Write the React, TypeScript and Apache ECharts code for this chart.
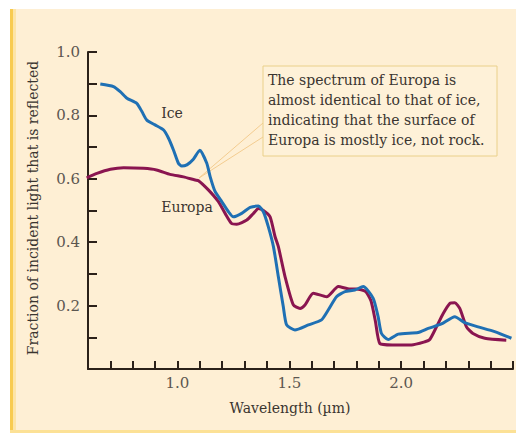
import React, { useEffect, useRef } from "react";
import * as echarts from "echarts";

const iceX = [0.655, 0.714, 0.744, 0.774, 0.818, 0.841, 0.863, 0.9, 0.938, 0.96, 0.982, 1.004, 1.019, 1.042, 1.071, 1.1, 1.131, 1.146, 1.168, 1.198, 1.228, 1.25, 1.287, 1.325, 1.362, 1.384, 1.406, 1.429, 1.451, 1.473, 1.488, 1.525, 1.585, 1.644, 1.674, 1.711, 1.749, 1.793, 1.83, 1.875, 1.897, 1.912, 1.942, 1.987, 2.076, 2.121, 2.18, 2.24, 2.284, 2.344, 2.418, 2.493];
const iceY = [0.899, 0.891, 0.875, 0.854, 0.838, 0.812, 0.785, 0.77, 0.754, 0.728, 0.691, 0.649, 0.64, 0.644, 0.662, 0.69, 0.649, 0.607, 0.56, 0.528, 0.496, 0.48, 0.491, 0.51, 0.514, 0.496, 0.449, 0.386, 0.291, 0.197, 0.139, 0.123, 0.139, 0.155, 0.186, 0.228, 0.244, 0.249, 0.26, 0.223, 0.165, 0.112, 0.093, 0.11, 0.115, 0.128, 0.142, 0.165, 0.146, 0.133, 0.118, 0.097];

const europaX = [0.594, 0.64, 0.7, 0.759, 0.848, 0.906, 0.967, 1.027, 1.079, 1.094, 1.138, 1.183, 1.213, 1.242, 1.265, 1.31, 1.34, 1.362, 1.384, 1.414, 1.436, 1.451, 1.481, 1.518, 1.548, 1.57, 1.607, 1.667, 1.719, 1.771, 1.8, 1.84, 1.865, 1.885, 1.905, 1.96, 2.046, 2.106, 2.128, 2.158, 2.188, 2.218, 2.24, 2.262, 2.292, 2.321, 2.374, 2.47];
const europaY = [0.603, 0.617, 0.63, 0.635, 0.633, 0.628, 0.614, 0.606, 0.596, 0.594, 0.565, 0.528, 0.491, 0.459, 0.457, 0.47, 0.491, 0.506, 0.5, 0.48, 0.418, 0.386, 0.291, 0.202, 0.191, 0.202, 0.239, 0.228, 0.26, 0.252, 0.252, 0.245, 0.215, 0.15, 0.08, 0.076, 0.076, 0.086, 0.093, 0.133, 0.175, 0.207, 0.209, 0.191, 0.133, 0.112, 0.097, 0.091];

const xLabels = ["1.0", "1.5", "2.0"];
const yLabels = ["0.2", "0.4", "0.6", "0.8", "1.0"];
const noteLines = [
  "The spectrum of Europa is",
  "almost identical to that of ice,",
  "indicating that the surface of",
  "Europa is mostly ice, not rock.",
];

const FONT = "DejaVu Serif";

export default function App() {
  const ref = useRef<HTMLDivElement>(null);
  useEffect(() => {
    const chart = echarts.init(ref.current!, null, { renderer: "svg" });
    const zip = (xs: number[], ys: number[]) => xs.map((x, i) => [x, ys[i]]);
    chart.setOption({
      animation: false,
      backgroundColor: "#ffffff",
      grid: { left: 88, right: 1, top: 52, bottom: 65 },
      xAxis: {
        type: "value",
        min: 0.6,
        max: 2.5,
        interval: 0.1,
        splitLine: { show: false },
        axisLine: { lineStyle: { color: "#2b2119", width: 2 } },
        axisTick: { inside: true, length: 8, lineStyle: { color: "#2b2119", width: 2 } },
        axisLabel: {
          margin: 6,
          color: "#5c5650",
          fontFamily: FONT,
          fontSize: 15,
          formatter: (v: number) => {
            const s = v.toFixed(1);
            return xLabels.includes(s) ? s : "";
          },
        },
      },
      yAxis: {
        type: "value",
        min: 0,
        max: 1.0,
        interval: 0.1,
        splitLine: { show: false },
        axisLine: { show: true, lineStyle: { color: "#2b2119", width: 2 } },
        axisTick: { show: true, inside: true, length: 9, lineStyle: { color: "#2b2119", width: 2 } },
        axisLabel: {
          margin: 8,
          color: "#5c5650",
          fontFamily: FONT,
          fontSize: 15,
          formatter: (v: number) => {
            const s = v.toFixed(1);
            return yLabels.includes(s) ? s : "";
          },
        },
      },
      graphic: [
        { type: "rect", z: -10, shape: { x: 10, y: 9, width: 506, height: 424 }, style: { fill: "#feefd4" } },
        { type: "rect", z: -9, shape: { x: 10, y: 9, width: 3, height: 424 }, style: { fill: "#f8cb50" } },
        { type: "rect", z: -9, shape: { x: 13, y: 9, width: 3, height: 424 }, style: { fill: "#fde4a6" } },
        { type: "rect", z: -9, shape: { x: 10, y: 430, width: 506, height: 3 }, style: { fill: "#fce196" } },
        { type: "line", z: 1, shape: { x1: 199, y1: 178, x2: 263, y2: 123 }, style: { stroke: "#f3cc90", lineWidth: 1 } },
        { type: "line", z: 1, shape: { x1: 199, y1: 178, x2: 263, y2: 137 }, style: { stroke: "#f3cc90", lineWidth: 1 } },
        { type: "rect", z: 1, shape: { x: 263, y: 66, width: 234, height: 90 }, style: { fill: "#fef1d8", stroke: "#ead08a", lineWidth: 1 } },
        ...noteLines.map((t, i) => ({
          type: "text",
          z: 5,
          x: 268,
          y: 80 + i * 20,
          style: { text: t, fill: "#3a3530", font: `14px '${FONT}'`, textVerticalAlign: "middle" },
        })),
        { type: "text", z: 5, x: 172, y: 113, style: { text: "Ice", fill: "#3a3530", font: `14px '${FONT}'`, textAlign: "center", textVerticalAlign: "middle" } },
        { type: "text", z: 5, x: 187, y: 207, style: { text: "Europa", fill: "#3a3530", font: `14px '${FONT}'`, textAlign: "center", textVerticalAlign: "middle" } },
        { type: "text", z: 5, x: 290, y: 408, style: { text: "Wavelength (µm)", fill: "#3a3530", font: `14px '${FONT}'`, textAlign: "center", textVerticalAlign: "middle" } },
        { type: "text", z: 5, x: 33, y: 208, rotation: Math.PI / 2, style: { text: "Fraction of incident light that is reflected", fill: "#3a3530", font: `14px '${FONT}'`, textAlign: "center", textVerticalAlign: "middle" } },
      ],
      series: [
        {
          name: "Europa",
          type: "line",
          data: zip(europaX, europaY),
          showSymbol: false,
          smooth: 0.2,
          z: 3,
          lineStyle: { color: "#8a1550", width: 3 },
        },
        {
          name: "Ice",
          type: "line",
          data: zip(iceX, iceY),
          showSymbol: false,
          smooth: 0.2,
          z: 4,
          lineStyle: { color: "#1f70b4", width: 3 },
        },
      ],
    });
    return () => chart.dispose();
  }, []);
  return (
    <div style={{ position: "fixed", left: 0, top: 0, width: 516, height: 434 }}>
      <div ref={ref} style={{ width: 516, height: 434 }} />
    </div>
  );
}
